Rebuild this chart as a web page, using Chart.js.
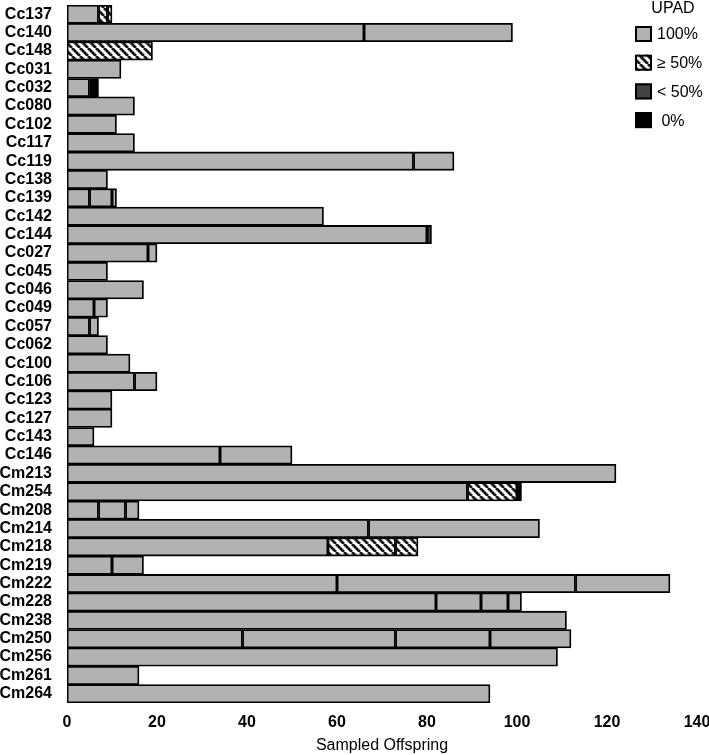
<!DOCTYPE html>
<html>
<head>
<meta charset="utf-8">
<script src="https://cdn.jsdelivr.net/npm/chart.js@4.4.1/dist/chart.umd.min.js"></script>
<style>
  html, body { margin: 0; padding: 0; background: #fff; }
  #wrap { width: 709px; height: 755px; }
</style>
</head>
<body>
<div id="wrap"><canvas id="chart" width="709" height="755"></canvas></div>
<script>
// Родители (сверху вниз)
const labels = ['Cc137', 'Cc140', 'Cc148', 'Cc031', 'Cc032', 'Cc080', 'Cc102', 'Cc117', 'Cc119', 'Cc138',
    'Cc139', 'Cc142', 'Cc144', 'Cc027', 'Cc045', 'Cc046', 'Cc049', 'Cc057', 'Cc062', 'Cc100',
    'Cc106', 'Cc123', 'Cc127', 'Cc143', 'Cc146', 'Cm213', 'Cm254', 'Cm208', 'Cm214', 'Cm218',
    'Cm219', 'Cm222', 'Cm228', 'Cm238', 'Cm250', 'Cm256', 'Cm261', 'Cm264'];

// Сегменты полос слева направо (число потомков)
const seg1 = [7, 66, 19, 12, 5, 15, 11, 15, 77, 9, 5, 57, 80, 18, 9, 17, 6, 5, 9, 14,
    15, 10, 10, 6, 34, 122, 89, 7, 67, 58, 10, 60, 82, 111, 39, 109, 16, 94];
const seg2 = [2, 33, null, null, 2, null, null, null, 9, null, 5, null, 1, 2, null, null, 3, 2, null, null,
    5, null, null, null, 16, null, 11, 6, 38, 15, 7, 53, 10, null, 34, null, null, null];
const seg3 = [1, null, null, null, null, null, null, null, null, null, 1, null, null, null, null, null, null, null, null, null,
    null, null, null, null, null, null, 1, 3, null, 5, null, 21, 6, null, 21, null, null, null];
const seg4 = [null, null, null, null, null, null, null, null, null, null, null, null, null, null, null, null, null, null, null, null,
    null, null, null, null, null, null, null, null, null, null, null, null, 3, null, 18, null, null, null];

// Тип UPAD для каждого сегмента: f = 100%, h = ≥ 50%, d = < 50%, b = 0%
const type1 = ['f', 'f', 'h', 'f', 'f', 'f', 'f', 'f', 'f', 'f', 'f', 'f', 'f', 'f', 'f', 'f', 'f', 'f', 'f', 'f',
    'f', 'f', 'f', 'f', 'f', 'f', 'f', 'f', 'f', 'f', 'f', 'f', 'f', 'f', 'f', 'f', 'f', 'f'];
const type2 = ['h', 'f', 'f', 'f', 'b', 'f', 'f', 'f', 'f', 'f', 'f', 'f', 'd', 'f', 'f', 'f', 'f', 'f', 'f', 'f',
    'f', 'f', 'f', 'f', 'f', 'f', 'h', 'f', 'f', 'h', 'f', 'f', 'f', 'f', 'f', 'f', 'f', 'f'];
const type3 = ['h', 'f', 'f', 'f', 'f', 'f', 'f', 'f', 'f', 'f', 'f', 'f', 'f', 'f', 'f', 'f', 'f', 'f', 'f', 'f',
    'f', 'f', 'f', 'f', 'f', 'f', 'b', 'f', 'f', 'h', 'f', 'f', 'f', 'f', 'f', 'f', 'f', 'f'];
const type4 = type1.map(() => 'f');

// Легенда
const legendLabels = ['100%', '≥ 50%', '< 50%', ' 0%'];
const legendTypes = ['f', 'h', 'd', 'b'];

const FONT = "'Liberation Sans', Arial, Helvetica, sans-serif";
Chart.defaults.font.family = FONT;
Chart.defaults.color = '#000';

// Штриховка для "≥ 50%"
function makeHatch() {
    const c = document.createElement('canvas');
    c.width = 8;
    c.height = 8;
    const g = c.getContext('2d');
    g.fillStyle = '#fff';
    g.fillRect(0, 0, 8, 8);
    g.strokeStyle = '#1a1a1a';
    g.lineWidth = 2.8;
    g.beginPath();
    for (let k = -8; k <= 8; k += 8) {
        g.moveTo(k, 0);
        g.lineTo(k + 8, 8);
    }
    g.stroke();
    return g.createPattern(c, 'repeat');
}

const fills = {
    f: '#b2b2b2',
    h: makeHatch(),
    d: '#434343',
    b: '#000000'
};

const segs = [seg1, seg2, seg3, seg4];
const types = [type1, type2, type3, type4];

const datasets = segs.map((vals, i) => ({
    label: 'seg' + (i + 1),
    data: vals,
    backgroundColor: types[i].map(t => fills[t]),
    borderColor: '#000',
    borderWidth: 1.8,
    borderSkipped: false,
    barPercentage: 1,
    categoryPercentage: 1
}));

// Своя легенда справа сверху
const upadLegend = {
    id: 'upadLegend',
    afterDraw(chart) {
        const ctx = chart.ctx;
        ctx.save();
        ctx.font = '16px ' + FONT;
        ctx.fillStyle = '#000';
        ctx.textBaseline = 'middle';
        ctx.textAlign = 'center';
        ctx.fillText('UPAD', 673, 9);
        ctx.textAlign = 'left';
        legendLabels.forEach((txt, i) => {
            const cy = 34 + i * 28.7;
            ctx.fillStyle = fills[legendTypes[i]];
            ctx.fillRect(635, cy - 8, 17, 16);
            ctx.strokeStyle = '#000';
            ctx.lineWidth = 2;
            ctx.strokeRect(636, cy - 7, 15, 14);
            ctx.fillStyle = '#000';
            ctx.fillText(txt, 657, cy + 1);
        });
        ctx.restore();
    }
};

new Chart(document.getElementById('chart'), {
    type: 'bar',
    data: { labels: labels, datasets: datasets },
    plugins: [upadLegend],
    options: {
        indexAxis: 'y',
        responsive: false,
        animation: false,
        layout: { padding: { top: 5, right: 12, left: 0, bottom: 0 } },
        plugins: {
            legend: { display: false },
            tooltip: { enabled: false }
        },
        scales: {
            y: {
                stacked: true,
                grid: { display: false, drawTicks: false },
                border: { display: false },
                ticks: { font: { size: 16, weight: 'bold' }, padding: 15, autoSkip: false },
                afterFit(scale) {
                    scale.width = 67;
                    scale.paddingTop = 0;
                    scale.paddingBottom = 0;
                }
            },
            x: {
                stacked: true,
                min: 0,
                max: 140,
                grid: { display: false, drawTicks: false },
                border: { display: false },
                ticks: { stepSize: 20, font: { size: 16, weight: 'bold' }, padding: 10, maxRotation: 0 },
                title: { display: true, text: 'Sampled Offspring', font: { size: 16 }, padding: 0 },
                afterFit(scale) {
                    scale.height = 52;
                    scale.paddingLeft = 0;
                    scale.paddingRight = 0;
                }
            }
        }
    }
});
</script>
</body>
</html>
